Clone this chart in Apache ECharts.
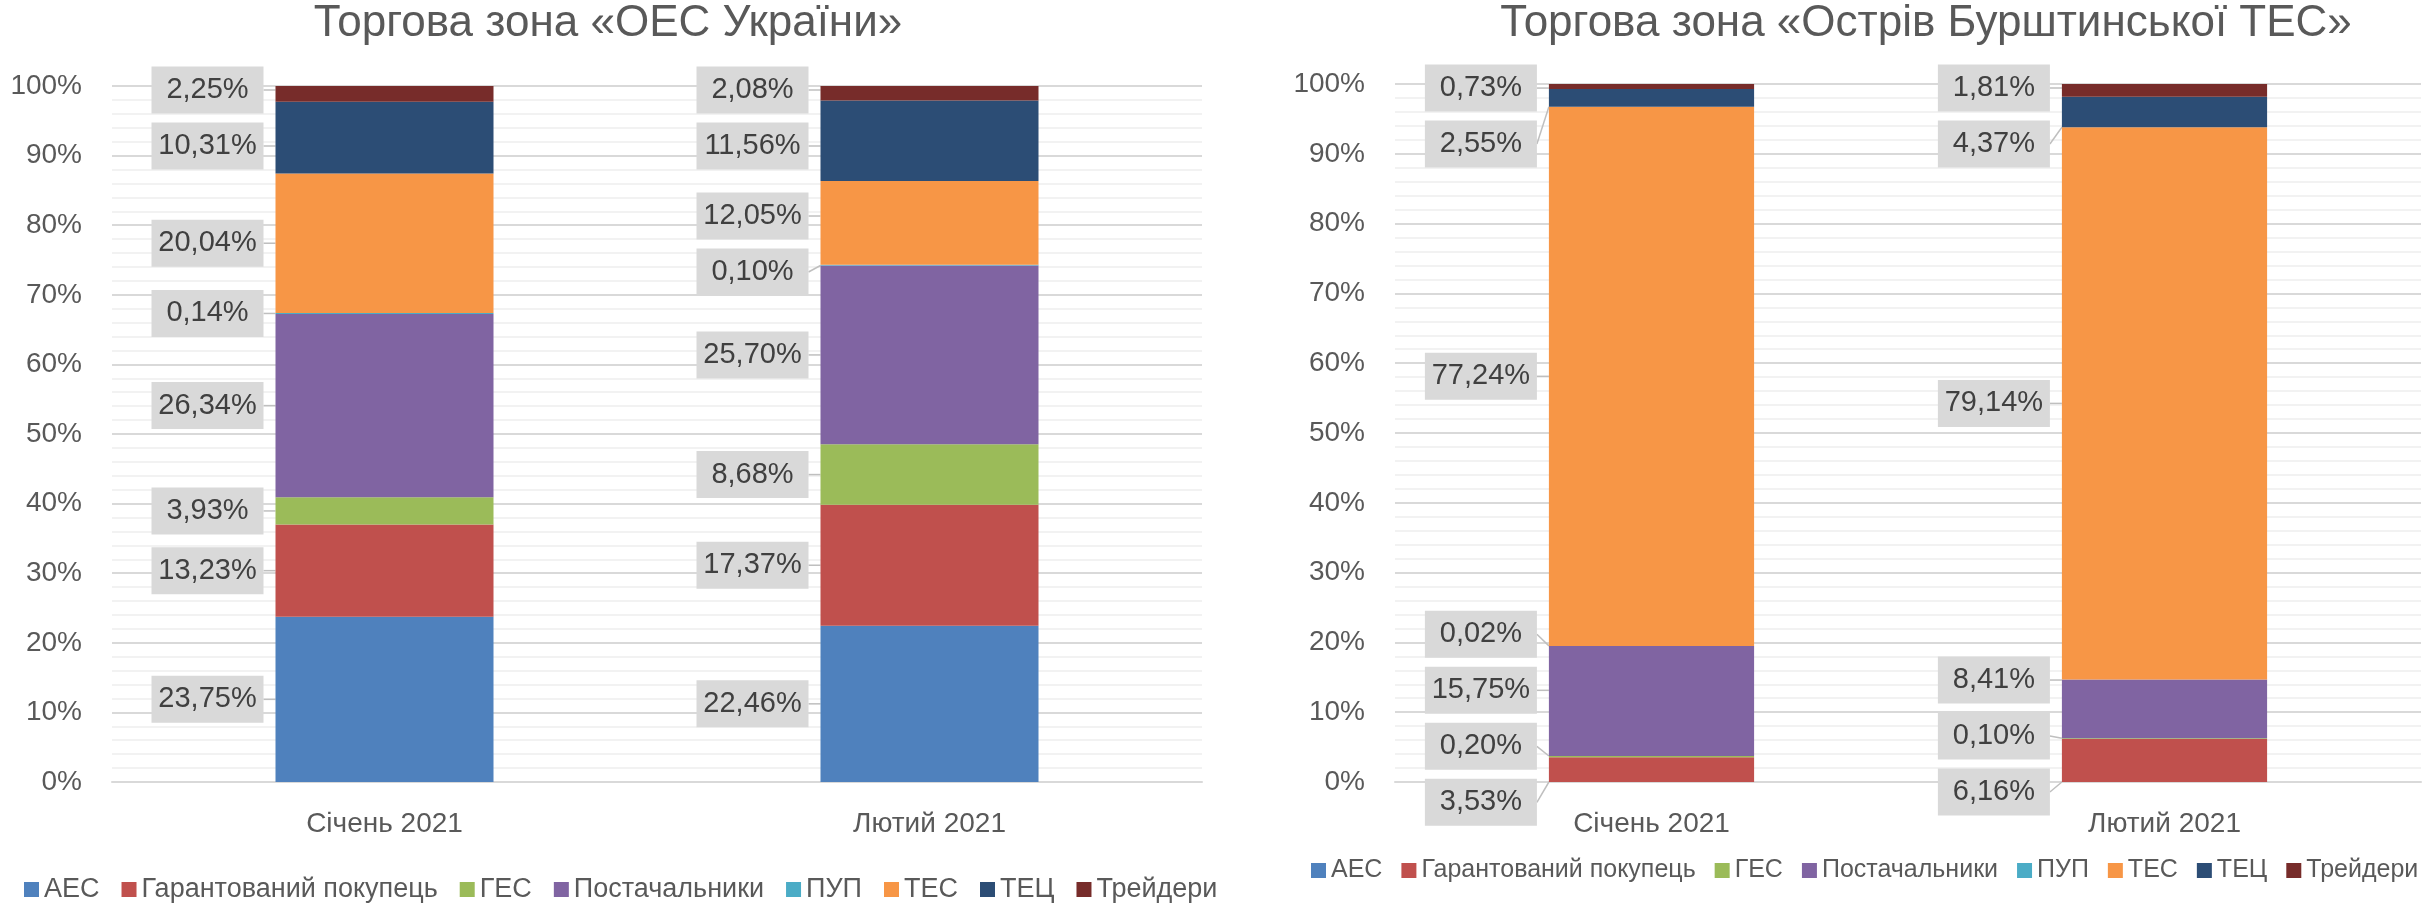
<!DOCTYPE html>
<html>
<head>
<meta charset="utf-8">
<script src="https://cdn.jsdelivr.net/npm/echarts@6/dist/echarts.min.js"></script>
<style>
  html, body { margin: 0; padding: 0; background: #fff; }
  #chart { width: 2435px; height: 904px; }
</style>
</head>
<body>
<div id="chart"></div>
<script>
const categories = ['Січень 2021', 'Лютий 2021'];
const seriesNames = ['АЕС', 'Гарантований покупець', 'ГЕС', 'Постачальники', 'ПУП', 'ТЕС', 'ТЕЦ', 'Трейдери'];
const colors = ['#4f81bd', '#c0504d', '#9bbb59', '#8064a2', '#4bacc6', '#f79646', '#2c4d75', '#772c2a'];
const yTicks = [0, 10, 20, 30, 40, 50, 60, 70, 80, 90, 100];

// Торгова зона «ОЕС України», order follows seriesNames
const oesJan = [23.75, 13.23, 3.93, 26.34, 0.14, 20.04, 10.31, 2.25];
const oesFeb = [22.46, 17.37, 8.68, 25.70, 0.10, 12.05, 11.56, 2.08];
// Торгова зона «Острів Бурштинської ТЕС»
const burJan = [0, 3.53, 0.20, 15.75, 0.02, 77.24, 2.55, 0.73];
const burFeb = [0, 6.16, 0.10, 8.41, 0, 79.14, 4.37, 1.81];

const font = 'Liberation Sans, Arial, sans-serif';
const grey = '#595959';
const labelStep = 56; // box height + gap between callouts

// vertical shifts of callouts, filled after the first render
let shifts = {};

function fmt(v) {
    return v.toFixed(2).replace('.', ',') + '%';
}

function makeSeries(jan, feb, idx) {
    return seriesNames.map((name, i) => ({
        name: name,
        type: 'bar',
        stack: 'zone' + idx,
        xAxisIndex: idx,
        yAxisIndex: idx,
        barWidth: '40%',
        itemStyle: { color: colors[i] },
        data: [jan[i], feb[i]].map(v => ({ value: v, label: { show: v > 0 } })),
        label: {
            position: 'left',
            distance: 68,
            align: 'center',
            width: 100,
            padding: [8, 6],
            lineHeight: 31,
            backgroundColor: '#d9d9d9',
            color: '#404040',
            fontSize: 29,
            fontFamily: font,
            formatter: p => fmt(p.value)
        },
        labelLine: { show: true, lineStyle: { color: '#bfbfbf', width: 1.5 } },
        labelLayout: p => {
            const dy = shifts[p.seriesIndex + '_' + p.dataIndex];
            return dy ? { dy: dy } : {};
        }
    }));
}

function yAxis(idx) {
    return {
        type: 'value',
        gridIndex: idx,
        min: 0,
        max: 100,
        interval: 10,
        axisLine: { show: false },
        axisTick: { show: false },
        axisLabel: {
            formatter: v => yTicks.includes(v) ? v + '%' : '',
            fontSize: 28, color: grey, fontFamily: font, margin: 30
        },
        splitLine: { lineStyle: { color: '#d9d9d9', width: 2 } },
        minorTick: { show: false, splitNumber: 5 },
        minorSplitLine: { show: true, lineStyle: { color: '#f2f2f2', width: 2 } }
    };
}

function xAxis(idx) {
    return {
        type: 'category',
        gridIndex: idx,
        data: categories,
        axisLine: { lineStyle: { color: '#d9d9d9', width: 2 } },
        axisTick: { show: false },
        axisLabel: { fontSize: 28, color: grey, fontFamily: font, margin: 28 }
    };
}

function legend(left, top, size, gap) {
    return {
        data: seriesNames,
        left: left,
        top: top,
        icon: 'rect',
        itemWidth: 15,
        itemHeight: 15,
        itemGap: gap,
        padding: 0,
        textStyle: { fontSize: size, color: grey, fontFamily: font }
    };
}

const option = {
    animation: false,
    title: [
        {
            text: 'Торгова зона «ОЕС України»',
            left: 608, top: 2, padding: 0, textAlign: 'center',
            textStyle: { fontSize: 44, fontWeight: 'normal', color: grey, fontFamily: font }
        },
        {
            text: 'Торгова зона «Острів Бурштинської ТЕС»',
            left: 1926, top: 2, padding: 0, textAlign: 'center',
            textStyle: { fontSize: 44, fontWeight: 'normal', color: grey, fontFamily: font }
        }
    ],
    legend: [legend(24, 876, 27, 22), legend(1311, 858, 25, 19)],
    grid: [
        { left: 112, right: 2435 - 1202, top: 86, bottom: 904 - 782 },
        { left: 1395, right: 2435 - 2421, top: 84, bottom: 904 - 782 }
    ],
    xAxis: [xAxis(0), xAxis(1)],
    yAxis: [yAxis(0), yAxis(1)],
    series: makeSeries(oesJan, oesFeb, 0).concat(makeSeries(burJan, burFeb, 1))
};

const chart = echarts.init(document.getElementById('chart'));
chart.setOption(option);

// spread overlapping callouts of each column apart, keeping each group centred
// and never letting a callout rise above the top of the plot
const zones = [[oesJan, oesFeb], [burJan, burFeb]];
zones.forEach((cols, g) => {
    const minY = chart.convertToPixel({ yAxisIndex: g }, 100) + 4;
    cols.forEach((vals, c) => {
        let base = 0;
        const items = [];
        vals.forEach((v, i) => {
            const y = chart.convertToPixel({ yAxisIndex: g }, base + v / 2);
            base += v;
            if (v > 0) items.push({ key: (g * 8 + i) + '_' + c, y: y });
        });
        items.sort((a, b) => a.y - b.y);
        let groups = items.map(it => ({ items: [it] }));
        const place = gr => {
            const mean = gr.items.reduce((s, it) => s + it.y, 0) / gr.items.length;
            gr.start = Math.max(minY, mean - (gr.items.length - 1) / 2 * labelStep);
            gr.end = gr.start + (gr.items.length - 1) * labelStep;
        };
        groups.forEach(place);
        let merged = true;
        while (merged) {
            merged = false;
            for (let k = 0; k < groups.length - 1; k++) {
                if (groups[k + 1].start - groups[k].end < labelStep) {
                    groups[k].items = groups[k].items.concat(groups[k + 1].items);
                    groups.splice(k + 1, 1);
                    place(groups[k]);
                    merged = true;
                    break;
                }
            }
        }
        groups.forEach(gr => {
            gr.items.forEach((it, n) => {
                shifts[it.key] = gr.start + n * labelStep - it.y;
            });
        });
    });
});
chart.setOption(option);
</script>
</body>
</html>
